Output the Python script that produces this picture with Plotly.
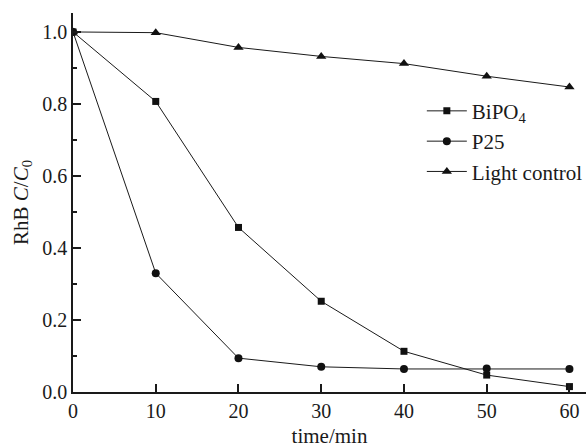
import plotly.graph_objects as go

time_min = [0, 10, 20, 30, 40, 50, 60]
bipo4 = [1.0, 0.807, 0.457, 0.252, 0.113, 0.047, 0.015]
p25 = [1.0, 0.330, 0.094, 0.070, 0.064, 0.065, 0.064]
light_control = [1.0, 0.998, 0.957, 0.932, 0.912, 0.877, 0.847]

series = [
    ("BiPO<sub>4</sub>", bipo4, "square", 7),
    ("P25", p25, "circle", 8),
    ("Light control", light_control, "triangle-up", 9),
]

fig = go.Figure()
for name, vals, sym, sz in series:
    fig.add_trace(go.Scatter(
        x=time_min, y=vals, name=name, mode="lines+markers",
        line=dict(color="#1a1a1a", width=1),
        marker=dict(symbol=sym, size=sz, color="#111111"),
    ))

font = dict(family="Liberation Serif, Times New Roman, serif", size=20, color="#1a1a1a")

fig.update_layout(
    width=588, height=448,
    margin=dict(l=73, r=0, t=13, b=56),
    plot_bgcolor="white", paper_bgcolor="white",
    font=font,
    showlegend=True,
    legend=dict(x=0.68, y=0.795, xanchor="left", yanchor="top",
                bgcolor="rgba(0,0,0,0)", font=dict(size=21),
                tracegroupgap=0, itemwidth=40),
)
fig.update_xaxes(
    range=[0, 62], tickvals=[0, 10, 20, 30, 40, 50, 60],
    showline=True, linecolor="#1a1a1a", linewidth=1.5,
    ticks="inside", ticklen=8, tickwidth=1.5, tickcolor="#1a1a1a",
    showgrid=False, zeroline=False,
    title=dict(text="time/min", font=dict(size=21), standoff=9),
)
fig.update_yaxes(
    range=[0, 1.0526], tickvals=[0.0, 0.2, 0.4, 0.6, 0.8, 1.0],
    ticktext=["0.0", "0.2", "0.4", "0.6", "0.8", "1.0"],
    showline=True, linecolor="#1a1a1a", linewidth=1.5,
    ticks="inside", ticklen=8, tickwidth=1.5, tickcolor="#1a1a1a",
    minor=dict(ticks="inside", ticklen=4, tickwidth=1.5, tickcolor="#1a1a1a",
               tickvals=[0.1, 0.3, 0.5, 0.7, 0.9], showgrid=False),
    showgrid=False, zeroline=False,
    title=dict(text="RhB <i>C</i>/<i>C</i><sub>0</sub>", font=dict(size=21), standoff=8),
)

fig.write_html("out.html")
